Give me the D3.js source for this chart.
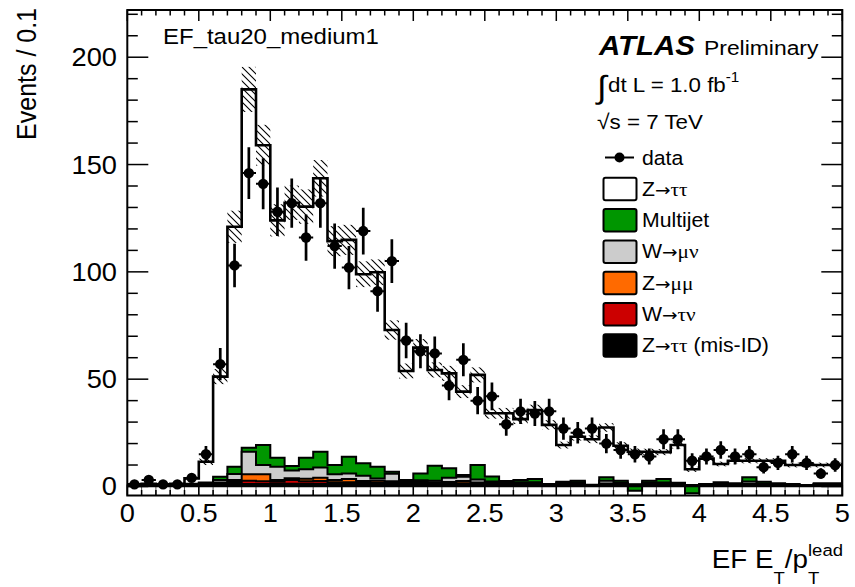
<!DOCTYPE html>
<html>
<head>
<meta charset="utf-8">
<script src="https://cdn.jsdelivr.net/npm/d3@7"></script>
<style>
  body { margin: 0; background: #fff; }
  svg { display: block; }
  text { font-family: "Liberation Sans", Arial, Helvetica, sans-serif; fill: #000; }
</style>
</head>
<body>
<svg id="chart" width="855" height="587"></svg>
<script>
// ---- binning ----
const nBins = 50;
const binWidth = 0.1;
const xRange = [0, 5];

// ---- observed counts per bin ----
const dataCounts = [
  1, 3, 1, 1, 4, 15, 57, 103, 146, 141,
  128, 132, 116, 132, 112, 102, 119, 91, 105, 68,
  63, 62, 47, 59, 40, 42, 29, 35, 34, 35,
  27, 25, 27, 20, 17, 15, 14, 22, 22, 12,
  14, 17, 14, 15, 9, 11, 15, 11, 6, 10
];

// ---- expected contributions per bin (stacked bottom -> top) ----
const misID = [
  0.3, 0.3, 0.3, 0.4, 0.5, 0.6, 0.9, 1.1, 1.2, 1.2,
  1.2, 1.3, 1.3, 1.3, 1.2, 1.2, 1.2, 1.2, 1.3, 1.5,
  1.2, 1.2, 1.2, 1.2, 1.2, 1.2, 1.2, 1.2, 1.2, 0.8,
  1.0, 1.1, 0.4, 1.0, 1.0, 0.6, 1.0, 1.0, 0.9, 0.4,
  0.7, 0.8, 0.8, 1.0, 0.9, 0.8, 0.7, 0.4, 0.8, 0.8
];
const wTauNu = [
  0.1, 0.1, 0.1, 0.1, 0.1, 0.2, 0.3, 1.0, 1.5, 1.2,
  1.0, 1.7, 1.1, 1.3, 0.8, 0.8, 0.5, 0.5, 0.5, 0.5,
  0.5, 0.4, 0.4, 0.3, 0.3, 0.3, 0.2, 0.2, 0.2, 0.1,
  0.2, 0.2, 0.1, 0.2, 0.2, 0.1, 0.2, 0.2, 0.1, 0.1,
  0.1, 0.1, 0.1, 0.2, 0.1, 0.1, 0.1, 0.1, 0.1, 0.1
];
const zMuMu = [
  0.1, 0.1, 0.1, 0.2, 0.3, 0.4, 0.6, 0.9, 3.0, 3.3,
  0.8, 0.8, 1.2, 1.5, 1.0, 1.5, 0.8, 1.0, 0.6, 0.5,
  0.4, 0.4, 0.5, 1.0, 0.4, 0.3, 0.2, 0.2, 0.2, 0.1,
  0.1, 0.2, 0.1, 0.2, 0.2, 0.1, 0.2, 0.2, 0.1, 0.1,
  0.1, 0.1, 0.1, 0.1, 0.1, 0.1, 0.1, 0.0, 0.1, 0.1
];
const wMuNu = [
  0.1, 0.2, 0.1, 0.1, 0.2, 0.3, 1.2, 2.8, 10.5, 4.3,
  6.2, 3.6, 4.4, 4.8, 2.7, 2.5, 2.5, 1.0, 3.5, 0.3,
  0.8, 0.7, 2.0, 2.0, 1.4, 0.5, 0.5, 0.4, 0.4, 0.2,
  0.4, 0.5, 0.2, 1.3, 0.3, 0.2, 0.4, 0.4, 0.3, 0.1,
  0.1, 0.2, 0.2, 1.0, 0.3, 0.2, 0.1, 0.1, 0.2, 0.2
];
const multijet = [
  0.2, 0.2, 0.1, 0.2, 0.2, 0.3, 1.5, 3.4, 1.9, 9.3,
  4.2, 2.2, 5.4, 7.3, 4.3, 7.9, 5.8, 5.5, 1.0, 0.2,
  3.2, 7.0, 4.4, 0.9, 6.7, 2.3, 0.5, 1.0, 1.5, 0.0,
  0.5, 0.7, -0.5, 1.6, 1.0, -3.0, 0.9, 1.7, 0.3, -3.8,
  0.2, 0.8, 0.3, 2.0, 0.8, 0.3, 0.2, 0.1, 0.3, 0.3
];
const zTauTau = [
  0.2, 0.3, 0.3, 0.3, 2.5, 9.7, 46.7, 111.8, 166.9, 139.7,
  110.6, 122.6, 117.0, 127.4, 104.3, 101.0, 88.1, 90.6, 66.0, 50.8,
  58.6, 44.6, 44.2, 38.8, 42.0, 29.5, 31.5, 28.4, 32.1, 27.5,
  17.1, 20.5, 21.7, 23.2, 16.3, 18.2, 13.5, 12.5, 17.6, 11.1,
  11.8, 8.5, 10.5, 7.7, 9.8, 10.5, 8.8, 9.3, 8.5, 8.5
];
// systematic + statistical uncertainty on the total expectation
const totalErr = [
  0.5, 0.5, 0.5, 0.5, 0.8, 1.5, 3.5, 7.5, 10.5, 9.5,
  7.5, 8.0, 8.0, 8.5, 7.0, 7.0, 6.0, 6.0, 4.5, 3.5,
  4.0, 3.5, 3.5, 3.0, 3.5, 2.5, 2.5, 2.3, 2.5, 2.2,
  1.6, 1.8, 1.8, 2.0, 1.6, 1.5, 1.4, 1.4, 1.6, 1.2,
  1.3, 1.1, 1.2, 1.2, 1.2, 1.2, 1.1, 1.1, 1.1, 1.1
];

// ---- axis ticks ----
const xMajorTicks = [0, 0.5, 1, 1.5, 2, 2.5, 3, 3.5, 4, 4.5, 5];
const xTickLabels = ["0", "0.5", "1", "1.5", "2", "2.5", "3", "3.5", "4", "4.5", "5"];
const yMajorTicks = [0, 50, 100, 150, 200];
const yTickLabels = ["0", "50", "100", "150", "200"];
const yMinorStep = 10;
const xMinorStep = 0.1;

// ---- drawing ----
const svg = d3.select("#chart");
const W = 855, H = 587;
const frame = { left: 127.3, right: 842.3, top: 10, bottom: 495.5 };
const SX = 1.09; // glyph aspect of the canvas fonts

const x = d3.scaleLinear().domain(xRange).range([frame.left, frame.right]);
const y = d3.scaleLinear().domain([-4.2, 222]).range([frame.bottom, frame.top]);

svg.append("rect").attr("width", W).attr("height", H).attr("fill", "#fff");

const defs = svg.append("defs");
const hatch = defs.append("pattern")
  .attr("id", "hatch").attr("patternUnits", "userSpaceOnUse")
  .attr("width", 7).attr("height", 7);
hatch.append("path")
  .attr("d", "M-1,-1 L8,8 M-1,6 L1,8 M6,-1 L8,1")
  .attr("stroke", "#000").attr("stroke-width", 1.1).attr("fill", "none");
defs.append("clipPath").attr("id", "plotclip").append("rect")
  .attr("x", frame.left).attr("y", frame.top)
  .attr("width", frame.right - frame.left).attr("height", frame.bottom - frame.top);

const plot = svg.append("g").attr("clip-path", "url(#plotclip)");
const edges = d3.range(nBins + 1).map(i => i * binWidth);

// strip between the axis minimum and zero, with bin edges
plot.append("rect")
  .attr("x", frame.left).attr("y", y(0))
  .attr("width", frame.right - frame.left).attr("height", frame.bottom - y(0))
  .attr("fill", "#fff");
plot.append("g").selectAll("line").data(edges).join("line")
  .attr("x1", d => x(d)).attr("x2", d => x(d))
  .attr("y1", y(0)).attr("y2", frame.bottom)
  .attr("stroke", "#555").attr("stroke-width", 1);

// cumulative stack
const components = [
  { name: "misID", values: misID, color: "#000000" },
  { name: "wTauNu", values: wTauNu, color: "#cc0000" },
  { name: "zMuMu", values: zMuMu, color: "#ff6a00" },
  { name: "wMuNu", values: wMuNu, color: "#cccccc" },
  { name: "multijet", values: multijet, color: "#009600" },
  { name: "zTauTau", values: zTauTau, color: "#ffffff" }
];
let running = new Array(nBins).fill(0);
components.forEach(c => {
  running = running.map((r, i) => r + c.values[i]);
  c.cum = running.slice();
});
const total = components[components.length - 1].cum;

function stepPoints(vals) {
  const pts = [[0, 0]];
  vals.forEach((v, i) => { pts.push([edges[i], v]); pts.push([edges[i + 1], v]); });
  pts.push([edges[nBins], 0]);
  return pts;
}
const lineGen = d3.line().x(d => x(d[0])).y(d => y(d[1]));

// draw from the top level downwards so lower levels overlay
for (let k = components.length - 1; k >= 0; k--) {
  const c = components[k];
  const pts = stepPoints(c.cum);
  plot.append("path").attr("d", lineGen(pts) + "Z")
    .attr("fill", c.color).attr("stroke", "none");
  plot.append("path").attr("d", lineGen(pts))
    .attr("fill", "none").attr("stroke", "#000")
    .attr("stroke-width", k === components.length - 1 ? 2.6 : 2)
    .attr("stroke-linejoin", "miter");
}
plot.append("line")
  .attr("x1", frame.left).attr("x2", frame.right)
  .attr("y1", y(0)).attr("y2", y(0))
  .attr("stroke", "#000").attr("stroke-width", 1.6);

// uncertainty band
plot.append("g").selectAll("rect").data(d3.range(nBins)).join("rect")
  .attr("x", i => x(edges[i]))
  .attr("width", i => x(edges[i + 1]) - x(edges[i]))
  .attr("y", i => y(total[i] + totalErr[i]))
  .attr("height", i => y(total[i] - totalErr[i]) - y(total[i] + totalErr[i]))
  .attr("fill", "url(#hatch)");

// data points with Poisson errors
const dg = plot.append("g");
dataCounts.forEach((n, i) => {
  if (n <= 0) return;
  const cx = x(edges[i] + binWidth / 2);
  const e = Math.sqrt(n);
  dg.append("line").attr("x1", cx).attr("x2", cx)
    .attr("y1", y(n - e)).attr("y2", y(n + e))
    .attr("stroke", "#000").attr("stroke-width", 2.7);
  dg.append("line").attr("x1", x(edges[i])).attr("x2", x(edges[i + 1]))
    .attr("y1", y(n)).attr("y2", y(n))
    .attr("stroke", "#000").attr("stroke-width", 2);
  dg.append("circle").attr("cx", cx).attr("cy", y(n)).attr("r", 5.2).attr("fill", "#000");
});

// ---- frame and ticks ----
const axes = svg.append("g").attr("stroke", "#000").attr("stroke-width", 1.5);
const yMinor = d3.range(yMinorStep, 222, yMinorStep).filter(v => !yMajorTicks.includes(v));
const xMinor = d3.range(0, nBins + 1).map(i => i * xMinorStep)
  .filter(v => !xMajorTicks.some(m => Math.abs(m - v) < 1e-6));
function tick(x1, y1, x2, y2) {
  axes.append("line").attr("x1", x1).attr("y1", y1).attr("x2", x2).attr("y2", y2);
}
yMajorTicks.forEach(v => {
  tick(frame.left, y(v), frame.left + 21, y(v));
  tick(frame.right, y(v), frame.right - 21, y(v));
});
yMinor.forEach(v => {
  tick(frame.left, y(v), frame.left + 10.5, y(v));
  tick(frame.right, y(v), frame.right - 10.5, y(v));
});
xMajorTicks.forEach(v => {
  tick(x(v), frame.top, x(v), frame.top + 11);
  tick(x(v), frame.bottom, x(v), frame.bottom - 11);
});
xMinor.forEach(v => {
  tick(x(v), frame.top, x(v), frame.top + 5.5);
  tick(x(v), frame.bottom, x(v), frame.bottom - 5.5);
});
svg.append("rect")
  .attr("x", frame.left).attr("y", frame.top)
  .attr("width", frame.right - frame.left).attr("height", frame.bottom - frame.top)
  .attr("fill", "none").attr("stroke", "#000").attr("stroke-width", 2);

// ---- text helpers ----
function label(px, py, opts = {}) {
  const g = svg.append("g").attr("transform",
    `translate(${px},${py}) scale(${SX},1)` + (opts.rotate ? ` rotate(${opts.rotate})` : ""));
  const t = g.append("text")
    .attr("font-size", opts.size || 25)
    .attr("text-anchor", opts.anchor || "start");
  if (opts.weight) t.attr("font-weight", opts.weight);
  if (opts.style) t.attr("font-style", opts.style);
  if (opts.family) t.attr("font-family", opts.family);
  return t;
}

// tick labels
yMajorTicks.forEach((v, i) => {
  label(117, y(v) + 9, { size: 25, anchor: "end" }).text(yTickLabels[i]);
});
xMajorTicks.forEach((v, i) => {
  label(x(v), 521.5, { size: 25, anchor: "middle" }).text(xTickLabels[i]);
});

// axis titles
label(36, 8, { size: 25, anchor: "end", rotate: -90 }).text("Events / 0.1");

const xt = label(0, 568, { size: 25.5 });
xt.append("tspan").text("EF E");
xt.append("tspan").attr("font-size", 17).attr("dy", 16).text("T");
xt.append("tspan").attr("dy", -16).text("/p");
const tSub = xt.append("tspan").attr("font-size", 17).attr("dy", 16).text("T");
const tSubW = tSub.node().getComputedTextLength();
xt.append("tspan").attr("font-size", 17).attr("dx", -tSubW).attr("dy", -28).text("lead");
{
  const w = xt.node().getBBox().width * SX;
  d3.select(xt.node().parentNode).attr("transform", `translate(${843 - w},568) scale(${SX},1)`);
}

// channel label
label(163, 44, { size: 22 }).text("EF_tau20_medium1");

// experiment label
label(599, 54.5, { size: 27, weight: "bold", style: "italic" }).text("ATLAS");
label(704, 54.5, { size: 21 }).text("Preliminary");

// luminosity and energy
label(597, 98, { size: 32, family: "DejaVu Sans" }).text("\u222B");
const lum = label(608, 92, { size: 20.5 });
lum.append("tspan").text("dt L = 1.0 fb");
lum.append("tspan").attr("font-size", 14).attr("dy", -10).text("-1");
const rs = label(597, 128.5, { size: 20.5 });
rs.append("tspan").attr("font-size", 21).text("\u221A");
rs.append("tspan").text("s = 7 TeV");

// ---- legend ----
const legendRows = [
  { kind: "data", label: ["data"] },
  { kind: "box", fill: "#ffffff", label: ["Z", "\u2192", "\u03C4\u03C4"] },
  { kind: "box", fill: "#009600", label: ["Multijet"] },
  { kind: "box", fill: "#cccccc", label: ["W", "\u2192", "\u03BC\u03BD"] },
  { kind: "box", fill: "#ff6a00", label: ["Z", "\u2192", "\u03BC\u03BC"] },
  { kind: "box", fill: "#cc0000", label: ["W", "\u2192", "\u03C4\u03BD"] },
  { kind: "box", fill: "#000000", label: ["Z", "\u2192", "\u03C4\u03C4", " (mis-ID)"] }
];
const greek = /[\u03B1-\u03C9]/;
const legY0 = 157.5, legStep = 31.3;
legendRows.forEach((r, i) => {
  const cy = legY0 + i * legStep;
  if (r.kind === "data") {
    svg.append("line").attr("x1", 605).attr("x2", 634).attr("y1", cy).attr("y2", cy)
      .attr("stroke", "#000").attr("stroke-width", 2);
    svg.append("circle").attr("cx", 619.5).attr("cy", cy).attr("r", 5).attr("fill", "#000");
  } else {
    svg.append("rect").attr("x", 603.5).attr("y", cy - 11).attr("width", 33).attr("height", 22.5)
      .attr("rx", 2).attr("fill", r.fill).attr("stroke", "#000").attr("stroke-width", 2);
  }
  const t = label(642, cy + 7, { size: 19.5 });
  r.label.forEach(part => {
    const sp = t.append("tspan").text(part);
    if (part === "\u2192") sp.attr("font-family", "DejaVu Sans").attr("font-size", 17);
    else if (greek.test(part)) sp.attr("font-family", "Liberation Serif").attr("font-size", 19.5);
  });
});
</script>
</body>
</html>
